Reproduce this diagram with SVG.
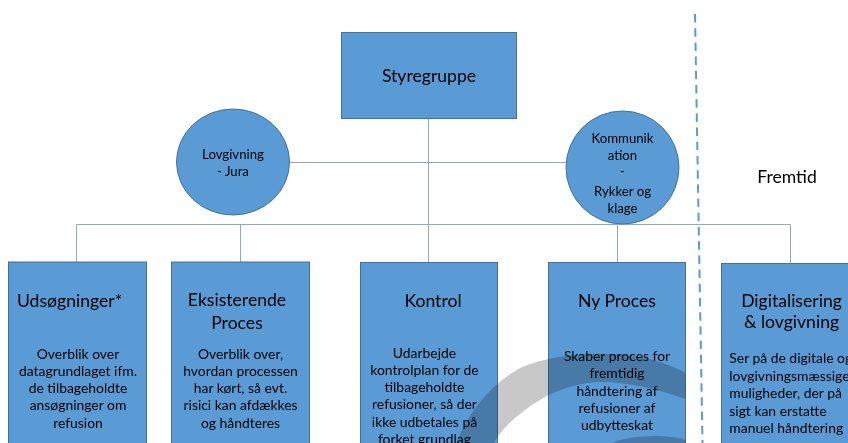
<svg xmlns="http://www.w3.org/2000/svg" width="848" height="443" viewBox="0 0 848 443">
  <style>
    .box { fill: #5B9BD5; stroke: #41719C; stroke-width: 1; }
    .link { fill: none; stroke: #8FAAC8; stroke-width: 1; }
    .divider { fill: none; stroke: #5B9BD5; stroke-width: 2; stroke-dasharray: 8.5 5.7; }
    text { font-family: "Lato", "Liberation Sans", sans-serif; fill: #000; }
    .title { font-size: 17.6px; }
    .body { font-size: 13.9px; }
    .small { font-size: 13.2px; }
    .mid { text-anchor: middle; }
    .cycle { fill: #C8C8C8; mix-blend-mode: multiply; }
  </style>

  <!-- connectors -->
  <g id="connectors">
    <line class="link" x1="428.5" y1="119" x2="428.5" y2="262"/>
    <line class="link" x1="289.5" y1="162.5" x2="566" y2="162.5"/>
    <line class="link" x1="76.5" y1="224.5" x2="790.5" y2="224.5"/>
    <line class="link" x1="76.5" y1="224.5" x2="76.5" y2="262"/>
    <line class="link" x1="240.5" y1="224.5" x2="240.5" y2="262"/>
    <line class="link" x1="617.5" y1="224.5" x2="617.5" y2="262"/>
    <line class="link" x1="790.5" y1="224.5" x2="790.5" y2="263"/>
  </g>

  <!-- dashed boundary between present and future -->
  <line class="divider" x1="695" y1="14" x2="702.5" y2="443"/>

  <g id="styregruppe">
    <rect class="box" x="341.5" y="32.5" width="175" height="86"/>
    <text class="title mid" x="429" y="82">Styregruppe</text>
  </g>

  <g id="lovgivning">
    <ellipse class="box" cx="233" cy="162" rx="56.5" ry="53"/>
    <text class="small mid" x="233" y="159">Lovgivning</text>
    <text class="small mid" x="233" y="176">- Jura</text>
  </g>

  <g id="kommunikation">
    <ellipse class="box" cx="622.5" cy="167.5" rx="56.5" ry="56.5"/>
    <text class="small mid" x="622.5" y="143">Kommunik</text>
    <text class="small mid" x="622.5" y="160">ation</text>
    <text class="small mid" x="622.5" y="176">-</text>
    <text class="small mid" x="622.5" y="196">Rykker og</text>
    <text class="small mid" x="622.5" y="213">klage</text>
  </g>

  <g id="fremtid">
    <text class="title mid" x="787" y="183">Fremtid</text>
  </g>

  <g id="udsoegninger">
    <rect class="box" x="8.5" y="262" width="138" height="200"/>
    <text class="title" x="17" y="307">Udsøgninger*</text>
    <text class="body mid" x="78" y="358.5">Overblik over</text>
    <text class="body mid" x="78" y="375.8">datagrundlaget ifm.</text>
    <text class="body mid" x="78" y="393">de tilbageholdte</text>
    <text class="body mid" x="78" y="410.3">ansøgninger om</text>
    <text class="body mid" x="78" y="427.5">refusion</text>
  </g>

  <g id="eksisterende-proces">
    <rect class="box" x="171.5" y="262" width="138" height="200"/>
    <text class="title mid" x="237" y="306">Eksisterende</text>
    <text class="title mid" x="237" y="328.5">Proces</text>
    <text class="body mid" x="240.5" y="358.5">Overblik over,</text>
    <text class="body mid" x="240.5" y="375.8">hvordan processen</text>
    <text class="body mid" x="240.5" y="393">har kørt, så evt.</text>
    <text class="body mid" x="240.5" y="410.3">risici kan afdækkes</text>
    <text class="body mid" x="240.5" y="427.5">og håndteres</text>
  </g>

  <g id="kontrol">
    <rect class="box" x="360.5" y="262.5" width="137" height="200"/>
    <text class="title mid" x="433" y="306.5">Kontrol</text>
    <text class="body mid" x="424.5" y="357.5">Udarbejde</text>
    <text class="body mid" x="424.5" y="374.8">kontrolplan for de</text>
    <text class="body mid" x="424.5" y="392">tilbageholdte</text>
    <text class="body mid" x="424.5" y="409.3">refusioner, så der</text>
    <text class="body mid" x="424.5" y="426.6">ikke udbetales på</text>
    <text class="body mid" x="424.5" y="443.8">forket grundlag</text>
  </g>

  <g id="ny-proces">
    <rect class="box" x="548.5" y="262.5" width="137" height="200"/>
    <text class="title mid" x="617" y="307">Ny Proces</text>
    <text class="body mid" x="617" y="361">Skaber proces for</text>
    <text class="body mid" x="617" y="378.3">fremtidig</text>
    <text class="body mid" x="617" y="395.6">håndtering af</text>
    <text class="body mid" x="617" y="412.9">refusioner af</text>
    <text class="body mid" x="617" y="430.2">udbytteskat</text>
  </g>

  <g id="digitalisering">
    <rect class="box" x="721.5" y="263.5" width="138" height="200"/>
    <text class="title mid" x="791.5" y="307">Digitalisering</text>
    <text class="title mid" x="791.5" y="328">&amp; lovgivning</text>
    <text class="body" x="729.3" y="363.3">Ser på de digitale og</text>
    <text class="body" x="729.3" y="380.7">lovgivningsmæssige</text>
    <text class="body" x="729.3" y="398.1">muligheder, der på</text>
    <text class="body" x="729.3" y="415.5">sigt kan erstatte</text>
    <text class="body" x="729.3" y="432.9">manuel håndtering</text>
  </g>

  <!-- grey cycle band laid over the lower boxes -->
  <g id="cycle">
    <path class="cycle" d="M456,443 C470,410 490,385 520,368 C550,354 600,350 640,357 C660,361 675,367 685.5,373 L685.5,399 C660,390 630,382 600,382 C570,383 545,395 525,410 C510,421 500,432 494,443 Z"/>
    <path class="cycle" d="M612,443 C625,436 665,433 685.5,440 L685.5,443 Z"/>
  </g>
</svg>
